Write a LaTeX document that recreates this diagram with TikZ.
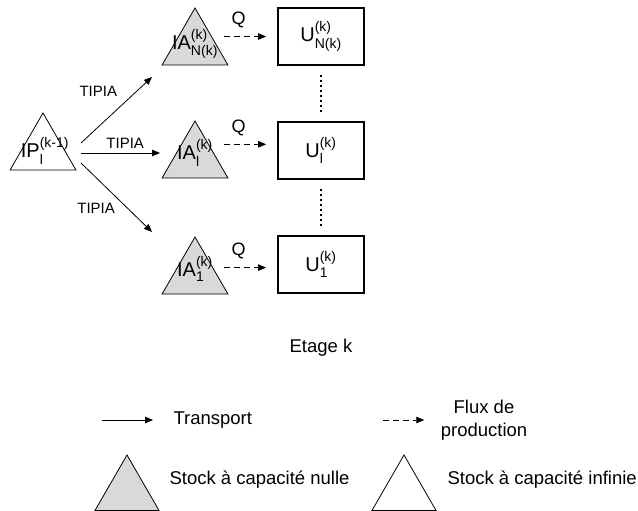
\documentclass[tikz,border=0pt]{standalone}
\usepackage{amsmath}
\usepackage{fontspec}
\setmainfont{Liberation Sans}
\usetikzlibrary{arrows.meta, positioning, shapes.geometric, calc}
\definecolor{stockgray}{HTML}{D9D9D9}
\tikzset{
  stockzero/.style={
    regular polygon, regular polygon sides=3,
    draw=black, fill=stockgray, line width=0.8pt,
    inner sep=0pt, minimum size=76pt
  },
  stockinf/.style={stockzero, fill=white},
  stocklabel/.style={font=\fontsize{20}{24}\selectfont, inner sep=0pt},
  unitbox/.style={
    rectangle, draw=black, fill=white, line width=1.8pt,
    minimum width=86pt, minimum height=57pt,
    font=\fontsize{20}{24}\selectfont
  },
  transport/.style={-{Triangle[length=8pt,width=6.5pt]}, line width=0.8pt},
  flow/.style={transport, dash pattern=on 6pt off 4pt},
  dotline/.style={line width=2pt, dash pattern=on 2pt off 3pt},
  arclabel/.style={font=\fontsize{15}{18}\selectfont},
  qlabel/.style={font=\fontsize{18}{21}\selectfont},
  legendtext/.style={font=\fontsize{18.5}{23.5}\selectfont, align=center},
}

\begin{document}
\begin{tikzpicture}[x=1pt, y=-1pt]
  \useasboundingbox (0,0) rectangle (638,511);

  \node[stockinf, label={[stocklabel, xshift=2pt]center:{$\text{IP}^{\text{(k-1)}}_{\text{l}}$}}]
    (ip) at (43,151) {};

  \node[stockzero, label={[stocklabel, yshift=2pt]center:{$\text{IA}^{\text{(k)}}_{\text{N(k)}}$}}]
    (iaN) at (195,46) {};
  \node[stockzero, label={[stocklabel, yshift=6pt]center:{$\text{IA}^{\text{(k)}}_{\text{l}}$}}]
    (iaL) at (195,159) {};
  \node[stockzero, label={[stocklabel, yshift=6pt]center:{$\text{IA}^{\text{(k)}}_{\text{1}}$}}]
    (iaOne) at (195,275) {};

  \node[unitbox] (uN) at (321,36.5) {$\text{U}^{\text{(k)}}_{\text{N(k)}}$};
  \node[unitbox, below=55pt of uN] (uL) {$\text{U}^{\text{(k)}}_{\text{l}}$};
  \node[unitbox, below=55pt of uL] (uOne) {$\text{U}^{\text{(k)}}_{\text{1}}$};

  \draw[transport] ($(ip.center)+(38,-8)$) -- ($(iaN.center)+(-43,31)$)
    node[arclabel, pos=0.6, above left=4pt] {TIPIA};
  \draw[transport] ($(ip.center)+(38,2)$) -- ($(iaL.center)+(-35,-6)$)
    node[arclabel, pos=0.56, above=1pt] {TIPIA};
  \draw[transport] ($(ip.center)+(38,12)$) -- ($(iaOne.center)+(-43,-43)$)
    node[arclabel, pos=0.53, below left=0pt] {TIPIA};

  \draw[flow, shorten <=29pt, shorten >=11pt] (iaN.center |- uN.west) -- (uN.west)
    node[qlabel, pos=0.53, above=5pt] {Q};
  \draw[flow, shorten <=29pt, shorten >=11pt] ([yshift=6pt]iaL.center |- uL.west) -- ([yshift=6pt]uL.west)
    node[qlabel, pos=0.53, above=5pt] {Q};
  \draw[flow, shorten <=29pt, shorten >=11pt] ([yshift=-3.5pt]iaOne.center |- uOne.west) -- ([yshift=-3.5pt]uOne.west)
    node[qlabel, pos=0.53, above=5pt] {Q};

  \draw[dotline, shorten <=9pt, shorten >=9pt] (uN) -- (uL);
  \draw[dotline, shorten <=9pt, shorten >=9pt] (uL) -- (uOne);

  \node[legendtext] (etage) at (321,348) {Etage k};

  \coordinate (lgTstart) at (102,420);
  \node[legendtext, anchor=west] (lgTransport) at (170,420) {Transport};
  \draw[transport] (lgTstart) -- ([xshift=-17pt]lgTransport.west);

  \coordinate (lgFstart) at (383,420);
  \node[legendtext] (lgFlux) at (484,420) {Flux de\\production};
  \draw[flow] (lgFstart) -- ([xshift=-13pt]lgFlux.west);

  \node[stockzero, minimum size=74pt] (lgZero) at (127,492) {};
  \node[legendtext, anchor=west] (lgZeroText) at (166,480) {Stock à capacité nulle};
  \node[stockinf, minimum size=74pt] (lgInf) at (404,492) {};
  \node[legendtext, anchor=west] (lgInfText) at (444,480) {Stock à capacité infinie};
\end{tikzpicture}
\end{document}
